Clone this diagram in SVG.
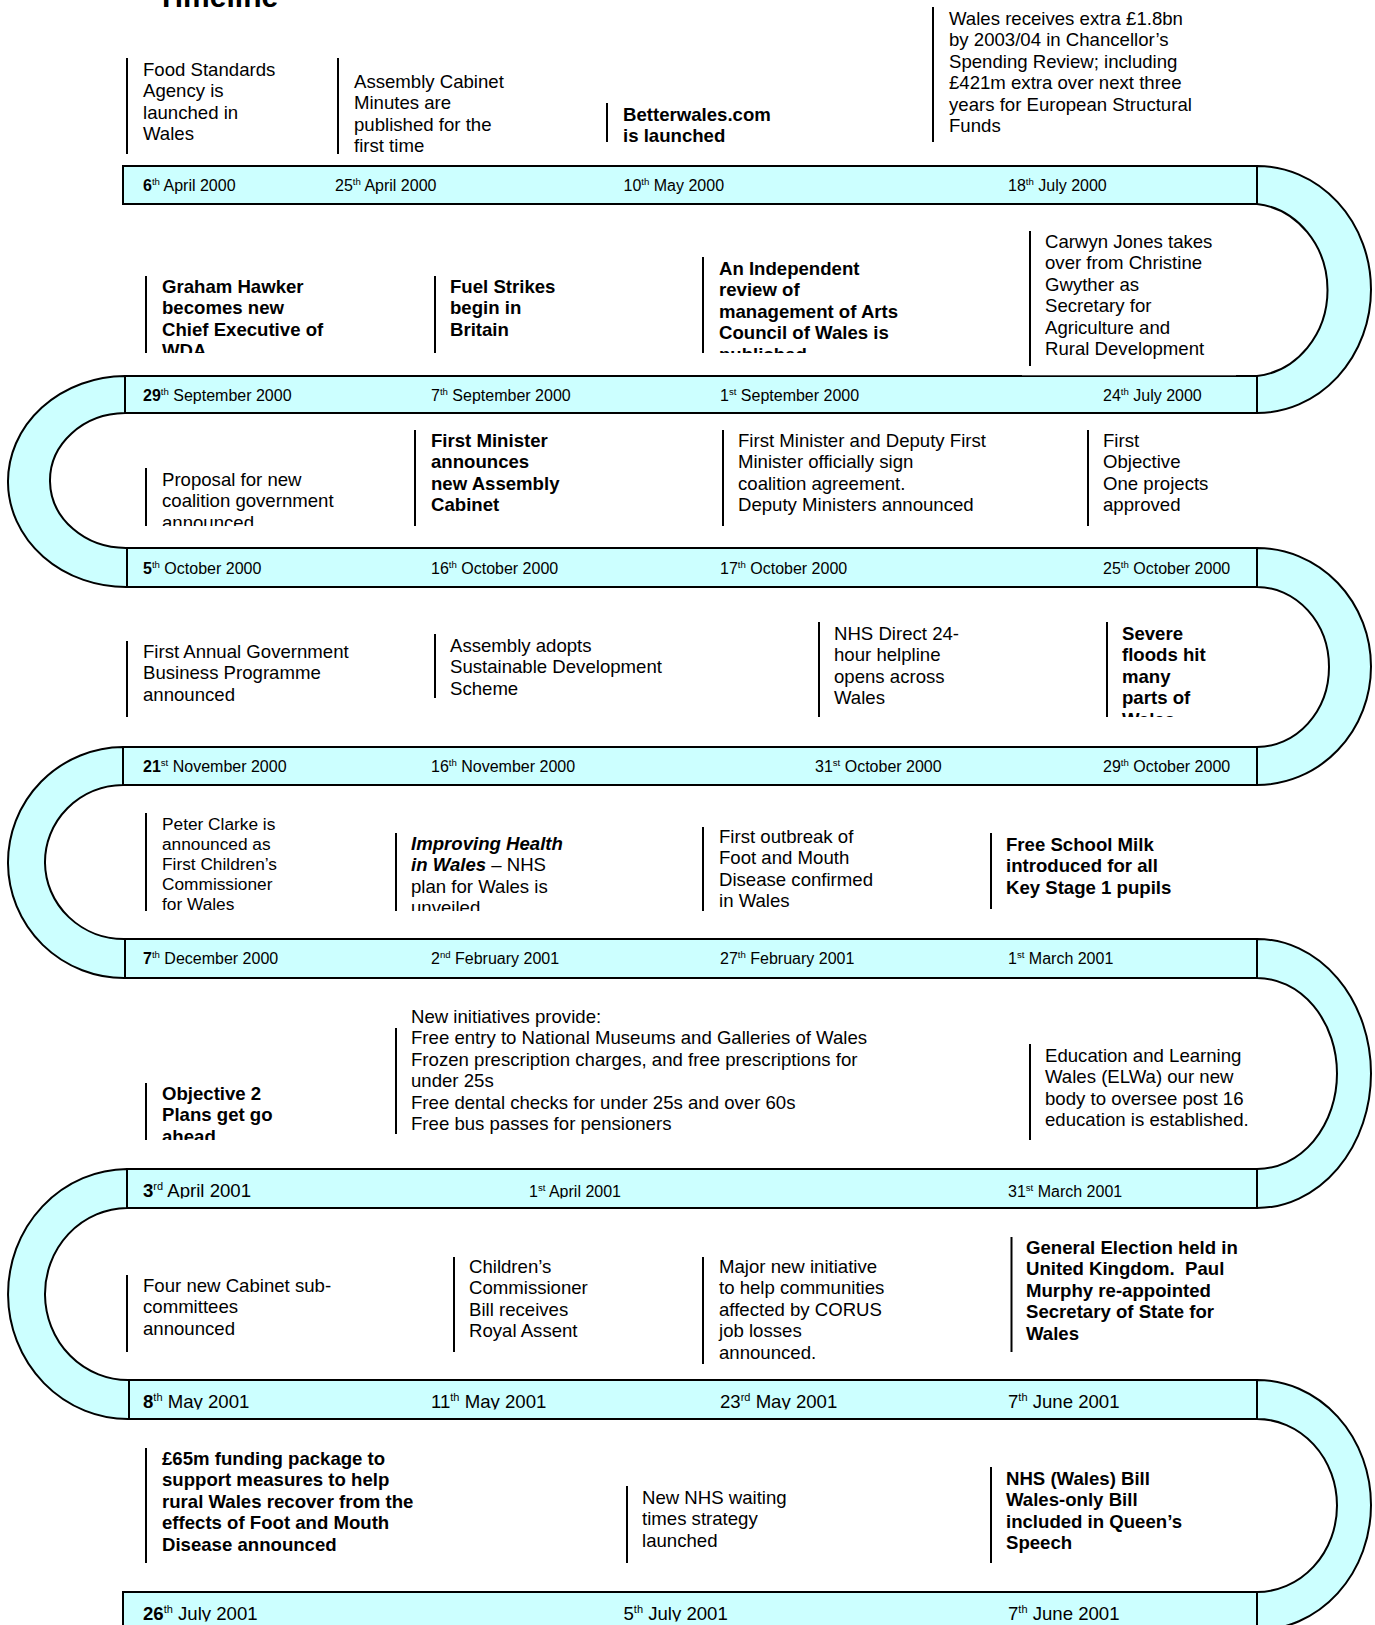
<svg xmlns="http://www.w3.org/2000/svg" width="1375" height="1625" viewBox="0 0 1375 1625">
<style>
.band{fill:#CCFFFF;stroke:#000;stroke-width:2}
.arc{fill:#CCFFFF;stroke:#000;stroke-width:2}
.vl{stroke:#000;stroke-width:2}
text{font-family:"Liberation Sans",Arial,sans-serif;fill:#000}
.t{font-size:18.6px}
.t2{font-size:17.3px}
.b{font-weight:bold}
.bi{font-weight:bold;font-style:italic}
.d{font-size:16px}
.dl{font-size:18.6px}
.s{font-size:9.6px}
.sl{font-size:11px}
.title{font-size:30px;font-weight:bold}
</style>
<defs>
<clipPath id="c5"><rect x="140" y="260" width="300" height="93"/></clipPath>
<clipPath id="c7"><rect x="700" y="240" width="300" height="113"/></clipPath>
<clipPath id="c9"><rect x="140" y="450" width="300" height="76"/></clipPath>
<clipPath id="c16"><rect x="1100" y="600" width="150" height="117"/></clipPath>
<clipPath id="c18"><rect x="390" y="820" width="260" height="91"/></clipPath>
<clipPath id="c21"><rect x="140" y="1070" width="200" height="70"/></clipPath>
<clipPath id="cr6"><rect x="0" y="1160" width="1375" height="38.5"/></clipPath>
<clipPath id="cr7"><rect x="0" y="1370" width="1375" height="39.5"/></clipPath>
<clipPath id="cr8"><rect x="0" y="1580" width="1375" height="41.5"/></clipPath>
</defs>

<text class="title" x="157" y="7">Timeline</text>

<g id="connectors">
<path class="arc" d="M1257,166 A114,123.5 0 0 1 1257,413 L1257,376 A79,86.5 0 0 0 1257,204 Z"/>
<path class="arc" d="M125,376 A118,105.5 0 0 0 127,587 L127,548 A76,67.5 0 0 1 125,413 Z"/>
<path class="arc" d="M1257,548 A114,118.5 0 0 1 1257,785 L1257,747 A72,80 0 0 0 1257,587 Z"/>
<path class="arc" d="M123,747 A116,115.5 0 0 0 125,978 L125,939 A79,77 0 0 1 123,785 Z"/>
<path class="arc" d="M1257,939 A114,134.5 0 0 1 1257,1208 L1257,1169 A80,95.5 0 0 0 1257,978 Z"/>
<path class="arc" d="M127,1169 A120,125 0 0 0 129,1419 L129,1380 A83,86 0 0 1 127,1208 Z"/>
<path class="arc" d="M1257,1380 A114,125 0 0 1 1257,1630 L1257,1592 A80,86.5 0 0 0 1257,1419 Z"/>
</g>

<g id="band1"><rect class="band" x="123" y="166" width="1134" height="38"/>
<text class="d" x="143" y="191"><tspan class="b">6</tspan><tspan class="s" dy="-6">th</tspan><tspan dy="6"> April 2000</tspan></text>
<text class="d" x="335" y="191">25<tspan class="s" dy="-6">th</tspan><tspan dy="6"> April 2000</tspan></text>
<text class="d" x="623.5" y="191">10<tspan class="s" dy="-6">th</tspan><tspan dy="6"> May 2000</tspan></text>
<text class="d" x="1008" y="191">18<tspan class="s" dy="-6">th</tspan><tspan dy="6"> July 2000</tspan></text>
</g>
<g id="band2"><rect class="band" x="125" y="376" width="1132" height="37"/>
<text class="d" x="143" y="400.5"><tspan class="b">29</tspan><tspan class="s" dy="-6">th</tspan><tspan dy="6"> September 2000</tspan></text>
<text class="d" x="431" y="400.5">7<tspan class="s" dy="-6">th</tspan><tspan dy="6"> September 2000</tspan></text>
<text class="d" x="720" y="400.5">1<tspan class="s" dy="-6">st</tspan><tspan dy="6"> September 2000</tspan></text>
<text class="d" x="1103" y="400.5">24<tspan class="s" dy="-6">th</tspan><tspan dy="6"> July 2000</tspan></text>
</g>
<g id="band3"><rect class="band" x="127" y="548" width="1130" height="39"/>
<text class="d" x="143" y="573.5"><tspan class="b">5</tspan><tspan class="s" dy="-6">th</tspan><tspan dy="6"> October 2000</tspan></text>
<text class="d" x="431" y="573.5">16<tspan class="s" dy="-6">th</tspan><tspan dy="6"> October 2000</tspan></text>
<text class="d" x="720" y="573.5">17<tspan class="s" dy="-6">th</tspan><tspan dy="6"> October 2000</tspan></text>
<text class="d" x="1103" y="573.5">25<tspan class="s" dy="-6">th</tspan><tspan dy="6"> October 2000</tspan></text>
</g>
<g id="band4"><rect class="band" x="123" y="747" width="1134" height="38"/>
<text class="d" x="143" y="772"><tspan class="b">21</tspan><tspan class="s" dy="-6">st</tspan><tspan dy="6"> November 2000</tspan></text>
<text class="d" x="431" y="772">16<tspan class="s" dy="-6">th</tspan><tspan dy="6"> November 2000</tspan></text>
<text class="d" x="815" y="772">31<tspan class="s" dy="-6">st</tspan><tspan dy="6"> October 2000</tspan></text>
<text class="d" x="1103" y="772">29<tspan class="s" dy="-6">th</tspan><tspan dy="6"> October 2000</tspan></text>
</g>
<g id="band5"><rect class="band" x="125" y="939" width="1132" height="39"/>
<text class="d" x="143" y="964"><tspan class="b">7</tspan><tspan class="s" dy="-6">th</tspan><tspan dy="6"> December 2000</tspan></text>
<text class="d" x="431" y="964">2<tspan class="s" dy="-6">nd</tspan><tspan dy="6"> February 2001</tspan></text>
<text class="d" x="720" y="964">27<tspan class="s" dy="-6">th</tspan><tspan dy="6"> February 2001</tspan></text>
<text class="d" x="1008" y="964">1<tspan class="s" dy="-6">st</tspan><tspan dy="6"> March 2001</tspan></text>
</g>
<g id="band6"><rect class="band" x="127" y="1169" width="1130" height="39"/>
<g clip-path="url(#cr6)">
<text class="dl" x="143" y="1197"><tspan class="b">3</tspan><tspan class="sl" dy="-7">rd</tspan><tspan dy="7"> April 2001</tspan></text>
<text class="d" x="529" y="1197">1<tspan class="s" dy="-6">st</tspan><tspan dy="6"> April 2001</tspan></text>
<text class="d" x="1008" y="1197">31<tspan class="s" dy="-6">st</tspan><tspan dy="6"> March 2001</tspan></text>
</g></g>
<g id="band7"><rect class="band" x="129" y="1380" width="1128" height="39"/>
<g clip-path="url(#cr7)">
<text class="dl" x="143" y="1408"><tspan class="b">8</tspan><tspan class="sl" dy="-7">th</tspan><tspan dy="7"> May 2001</tspan></text>
<text class="dl" x="431" y="1408">11<tspan class="sl" dy="-7">th</tspan><tspan dy="7"> May 2001</tspan></text>
<text class="dl" x="720" y="1408">23<tspan class="sl" dy="-7">rd</tspan><tspan dy="7"> May 2001</tspan></text>
<text class="dl" x="1008" y="1408">7<tspan class="sl" dy="-7">th</tspan><tspan dy="7"> June 2001</tspan></text>
</g></g>
<g id="band8"><rect class="band" x="123" y="1592" width="1134" height="40"/>
<g clip-path="url(#cr8)">
<text class="dl" x="143" y="1620"><tspan class="b">26</tspan><tspan class="sl" dy="-7">th</tspan><tspan dy="7"> July 2001</tspan></text>
<text class="dl" x="623.5" y="1620">5<tspan class="sl" dy="-7">th</tspan><tspan dy="7"> July 2001</tspan></text>
<text class="dl" x="1008" y="1620">7<tspan class="sl" dy="-7">th</tspan><tspan dy="7"> June 2001</tspan></text>
</g></g>

<g id="ev1"><line class="vl" x1="127" y1="58" x2="127" y2="154"/>
<text class="t"><tspan x="143" y="76">Food Standards</tspan><tspan x="143" y="97.4">Agency is</tspan><tspan x="143" y="118.8">launched in</tspan><tspan x="143" y="140.2">Wales</tspan></text></g>
<g id="ev2"><line class="vl" x1="338" y1="58" x2="338" y2="154"/>
<text class="t"><tspan x="354" y="88">Assembly Cabinet</tspan><tspan x="354" y="109.4">Minutes are</tspan><tspan x="354" y="130.8">published for the</tspan><tspan x="354" y="152.2">first time</tspan></text></g>
<g id="ev3"><line class="vl" x1="607" y1="103" x2="607" y2="142"/>
<text class="t b"><tspan x="623" y="121">Betterwales.com</tspan><tspan x="623" y="142">is launched</tspan></text></g>
<g id="ev4"><line class="vl" x1="933" y1="7" x2="933" y2="142"/>
<text class="t"><tspan x="949" y="25">Wales receives extra £1.8bn</tspan><tspan x="949" y="46.4">by 2003/04 in Chancellor’s</tspan><tspan x="949" y="67.8">Spending Review; including</tspan><tspan x="949" y="89.2">£421m extra over next three</tspan><tspan x="949" y="110.6">years for European Structural</tspan><tspan x="949" y="132">Funds</tspan></text></g>

<g id="ev5"><line class="vl" x1="146" y1="276" x2="146" y2="353"/>
<text class="t b" clip-path="url(#c5)"><tspan x="162" y="293">Graham Hawker</tspan><tspan x="162" y="314.4">becomes new</tspan><tspan x="162" y="335.8">Chief Executive of</tspan><tspan x="162" y="357.2">WDA</tspan></text></g>
<g id="ev6"><line class="vl" x1="435" y1="276" x2="435" y2="353"/>
<text class="t b"><tspan x="450" y="293">Fuel Strikes</tspan><tspan x="450" y="314.4">begin in</tspan><tspan x="450" y="335.8">Britain</tspan></text></g>
<g id="ev7"><line class="vl" x1="703" y1="257" x2="703" y2="353"/>
<text class="t b" clip-path="url(#c7)"><tspan x="719" y="275">An Independent</tspan><tspan x="719" y="296.4">review of</tspan><tspan x="719" y="317.8">management of Arts</tspan><tspan x="719" y="339.2">Council of Wales is</tspan><tspan x="719" y="360.6">published</tspan></text></g>
<g id="ev8"><rect x="1022" y="369" width="214" height="6.3" fill="#fff"/><line class="vl" x1="1030" y1="231" x2="1030" y2="366"/>
<text class="t"><tspan x="1045" y="248">Carwyn Jones takes</tspan><tspan x="1045" y="269.4">over from Christine</tspan><tspan x="1045" y="290.8">Gwyther as</tspan><tspan x="1045" y="312.2">Secretary for</tspan><tspan x="1045" y="333.6">Agriculture and</tspan><tspan x="1045" y="355">Rural Development</tspan></text></g>

<g id="ev9"><line class="vl" x1="146" y1="468" x2="146" y2="526"/>
<text class="t" clip-path="url(#c9)"><tspan x="162" y="486">Proposal for new</tspan><tspan x="162" y="507.4">coalition government</tspan><tspan x="162" y="528.8">announced</tspan></text></g>
<g id="ev10"><line class="vl" x1="415" y1="430" x2="415" y2="526"/>
<text class="t b"><tspan x="431" y="447">First Minister</tspan><tspan x="431" y="468.4">announces</tspan><tspan x="431" y="489.8">new Assembly</tspan><tspan x="431" y="511.2">Cabinet</tspan></text></g>
<g id="ev11"><line class="vl" x1="723" y1="430" x2="723" y2="526"/>
<text class="t"><tspan x="738" y="447">First Minister and Deputy First</tspan><tspan x="738" y="468.4">Minister officially sign</tspan><tspan x="738" y="489.8">coalition agreement.</tspan><tspan x="738" y="511.2">Deputy Ministers announced</tspan></text></g>
<g id="ev12"><line class="vl" x1="1088" y1="430" x2="1088" y2="526"/>
<text class="t"><tspan x="1103" y="447">First</tspan><tspan x="1103" y="468.4">Objective</tspan><tspan x="1103" y="489.8">One projects</tspan><tspan x="1103" y="511.2">approved</tspan></text></g>

<g id="ev13"><line class="vl" x1="127" y1="641" x2="127" y2="717"/>
<text class="t"><tspan x="143" y="658">First Annual Government</tspan><tspan x="143" y="679.4">Business Programme</tspan><tspan x="143" y="700.8">announced</tspan></text></g>
<g id="ev14"><line class="vl" x1="435" y1="634" x2="435" y2="698"/>
<text class="t"><tspan x="450" y="652">Assembly adopts</tspan><tspan x="450" y="673.4">Sustainable Development</tspan><tspan x="450" y="694.8">Scheme</tspan></text></g>
<g id="ev15"><line class="vl" x1="819" y1="622" x2="819" y2="717"/>
<text class="t"><tspan x="834" y="640">NHS Direct 24-</tspan><tspan x="834" y="661.4">hour helpline</tspan><tspan x="834" y="682.8">opens across</tspan><tspan x="834" y="704.2">Wales</tspan></text></g>
<g id="ev16"><line class="vl" x1="1107" y1="622" x2="1107" y2="717"/>
<text class="t b" clip-path="url(#c16)"><tspan x="1122" y="640">Severe</tspan><tspan x="1122" y="661.4">floods hit</tspan><tspan x="1122" y="682.8">many</tspan><tspan x="1122" y="704.2">parts of</tspan><tspan x="1122" y="725.6">Wales</tspan></text></g>

<g id="ev17"><line class="vl" x1="146" y1="813" x2="146" y2="911"/>
<text class="t2"><tspan x="162" y="830">Peter Clarke is</tspan><tspan x="162" y="850">announced as</tspan><tspan x="162" y="870">First Children’s</tspan><tspan x="162" y="890">Commissioner</tspan><tspan x="162" y="910">for Wales</tspan></text></g>
<g id="ev18"><line class="vl" x1="396" y1="833" x2="396" y2="911"/>
<text class="t" clip-path="url(#c18)"><tspan x="411" y="850" class="bi">Improving Health</tspan><tspan x="411" y="871.4"><tspan class="bi">in Wales</tspan> – NHS</tspan><tspan x="411" y="892.8">plan for Wales is</tspan><tspan x="411" y="914.2">unveiled</tspan></text></g>
<g id="ev19"><line class="vl" x1="703" y1="827" x2="703" y2="911"/>
<text class="t"><tspan x="719" y="843">First outbreak of</tspan><tspan x="719" y="864.4">Foot and Mouth</tspan><tspan x="719" y="885.8">Disease confirmed</tspan><tspan x="719" y="907.2">in Wales</tspan></text></g>
<g id="ev20"><line class="vl" x1="991" y1="833" x2="991" y2="909"/>
<text class="t b"><tspan x="1006" y="851">Free School Milk</tspan><tspan x="1006" y="872.4">introduced for all</tspan><tspan x="1006" y="893.8">Key Stage 1 pupils</tspan></text></g>

<g id="ev21"><line class="vl" x1="146" y1="1083" x2="146" y2="1140"/>
<text class="t b" clip-path="url(#c21)"><tspan x="162" y="1100">Objective 2</tspan><tspan x="162" y="1121.4">Plans get go</tspan><tspan x="162" y="1142.8">ahead</tspan></text></g>
<g id="ev22"><line class="vl" x1="396" y1="1028" x2="396" y2="1134"/>
<text class="t"><tspan x="411" y="1023">New initiatives provide:</tspan><tspan x="411" y="1044.4">Free entry to National Museums and Galleries of Wales</tspan><tspan x="411" y="1065.8">Frozen prescription charges, and free prescriptions for</tspan><tspan x="411" y="1087.2">under 25s</tspan><tspan x="411" y="1108.6">Free dental checks for under 25s and over 60s</tspan><tspan x="411" y="1130">Free bus passes for pensioners</tspan></text></g>
<g id="ev23"><line class="vl" x1="1030" y1="1044" x2="1030" y2="1140"/>
<text class="t"><tspan x="1045" y="1062">Education and Learning</tspan><tspan x="1045" y="1083.4">Wales (ELWa) our new</tspan><tspan x="1045" y="1104.8">body to oversee post 16</tspan><tspan x="1045" y="1126.2">education is established.</tspan></text></g>

<g id="ev24"><line class="vl" x1="127" y1="1275" x2="127" y2="1352"/>
<text class="t"><tspan x="143" y="1292">Four new Cabinet sub-</tspan><tspan x="143" y="1313.4">committees</tspan><tspan x="143" y="1334.8">announced</tspan></text></g>
<g id="ev25"><line class="vl" x1="454" y1="1257" x2="454" y2="1352"/>
<text class="t"><tspan x="469" y="1273">Children’s</tspan><tspan x="469" y="1294.4">Commissioner</tspan><tspan x="469" y="1315.8">Bill receives</tspan><tspan x="469" y="1337.2">Royal Assent</tspan></text></g>
<g id="ev26"><line class="vl" x1="703" y1="1257" x2="703" y2="1364"/>
<text class="t"><tspan x="719" y="1273">Major new initiative</tspan><tspan x="719" y="1294.4">to help communities</tspan><tspan x="719" y="1315.8">affected by CORUS</tspan><tspan x="719" y="1337.2">job losses</tspan><tspan x="719" y="1358.6">announced.</tspan></text></g>
<g id="ev27"><line class="vl" x1="1011.5" y1="1237" x2="1011.5" y2="1352"/>
<text class="t b"><tspan x="1026" y="1254">General Election held in</tspan><tspan x="1026" y="1275.4">United Kingdom.&#160; Paul</tspan><tspan x="1026" y="1296.8">Murphy re-appointed</tspan><tspan x="1026" y="1318.2">Secretary of State for</tspan><tspan x="1026" y="1339.6">Wales</tspan></text></g>

<g id="ev28"><line class="vl" x1="146" y1="1448" x2="146" y2="1563"/>
<text class="t b"><tspan x="162" y="1465">£65m funding package to</tspan><tspan x="162" y="1486.4">support measures to help</tspan><tspan x="162" y="1507.8">rural Wales recover from the</tspan><tspan x="162" y="1529.2">effects of Foot and Mouth</tspan><tspan x="162" y="1550.6">Disease announced</tspan></text></g>
<g id="ev29"><line class="vl" x1="627" y1="1486" x2="627" y2="1563"/>
<text class="t"><tspan x="642" y="1504">New NHS waiting</tspan><tspan x="642" y="1525.4">times strategy</tspan><tspan x="642" y="1546.8">launched</tspan></text></g>
<g id="ev30"><line class="vl" x1="991" y1="1467" x2="991" y2="1563"/>
<text class="t b"><tspan x="1006" y="1485">NHS (Wales) Bill</tspan><tspan x="1006" y="1506.4">Wales-only Bill</tspan><tspan x="1006" y="1527.8">included in Queen’s</tspan><tspan x="1006" y="1549.2">Speech</tspan></text></g>
</svg>
